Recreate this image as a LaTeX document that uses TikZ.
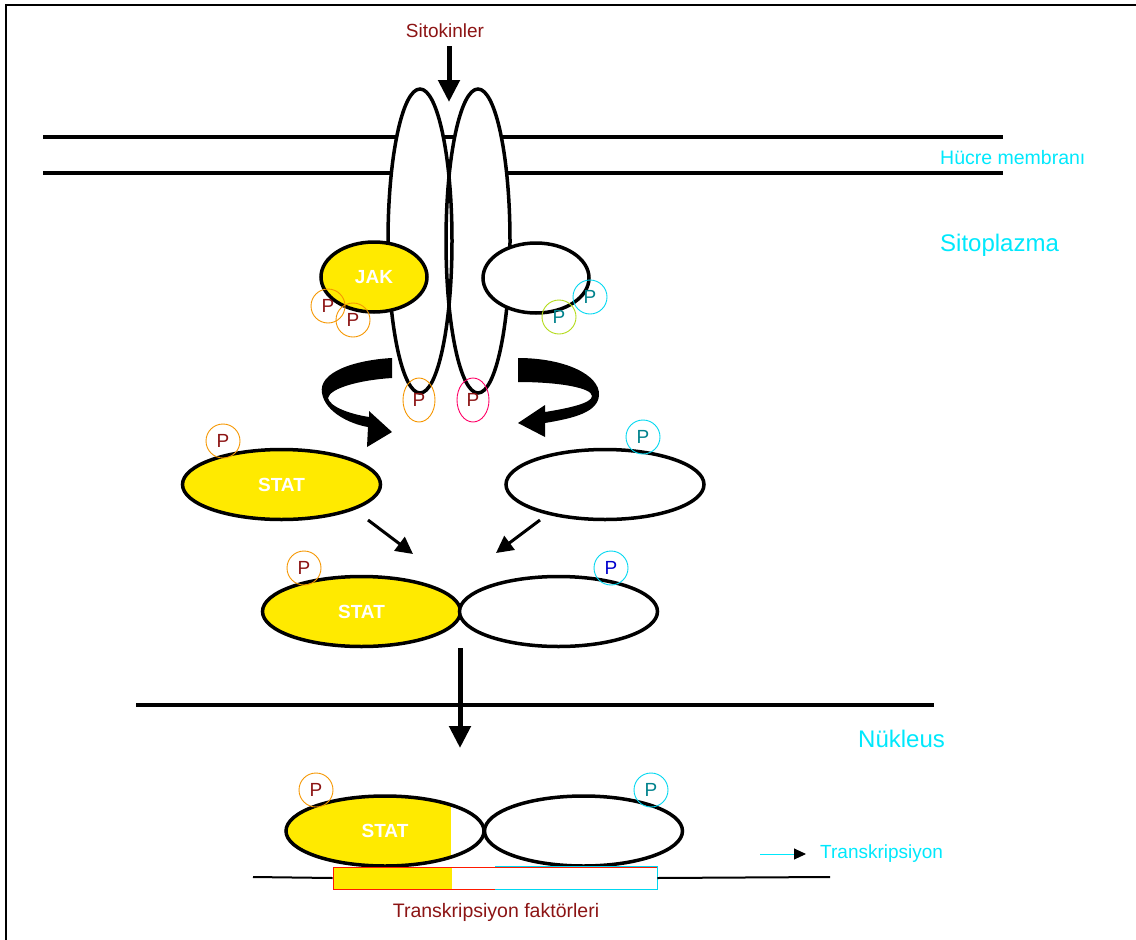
\documentclass[tikz,border=0pt]{standalone}
\usepackage{fontspec}
\setmainfont{Liberation Sans}
\usetikzlibrary{shapes.geometric,arrows.meta}

\definecolor{statyellow}{RGB}{255,234,0}
\definecolor{labelcyan}{RGB}{0,232,252}
\definecolor{labelred}{RGB}{140,20,20}
\definecolor{porange}{RGB}{245,150,0}
\definecolor{pcyan}{RGB}{0,215,240}
\definecolor{pteal}{RGB}{0,130,140}

\begin{document}
\begin{tikzpicture}[x=1pt,y=-1pt,
  receptor/.style={ellipse,fill=white,minimum width=64pt,minimum height=304pt,inner sep=0pt},
  blob/.style={ellipse,draw,line width=3.5pt,inner sep=0pt,text=white,font=\bfseries\fontsize{19}{19}\selectfont},
  jakbox/.style={blob,minimum width=106pt,minimum height=70pt},
  statbox/.style={blob,minimum width=198pt,minimum height=70pt},
  pleft/.style={circle,draw=porange,line width=0.9pt,minimum size=34pt,inner sep=0pt,text=labelred,font=\fontsize{19}{19}\selectfont},
  pright/.style={pleft,draw=pcyan,text=pteal},
  ptail/.style={pleft,ellipse,minimum width=32pt,minimum height=44pt},
  fat/.style={line width=5pt,-{Triangle[width=21pt,length=22pt]}},
  thinarrow/.style={line width=3pt,-{Triangle[width=17pt,length=17pt]}},
  lbl/.style={inner sep=0pt,font=\fontsize{#1}{#1}\selectfont}]
  \useasboundingbox (0,0) rectangle (1136,940);
  % frame and membranes
  \draw[line width=2.5pt] (6,940) -- (6,5) -- (1136,5);
  \draw[line width=4pt] (43,137) -- (1003,137) (43,173) -- (1003,173);
  % receptor
  \node[receptor] (recL) at (420,241) {};
  \node[receptor] (recR) at (478,241) {};
  \draw[line width=3.5pt] (recL.center) ellipse [x radius=32, y radius=152]
                          (recR.center) ellipse [x radius=32, y radius=152];
  \node[jakbox,fill=statyellow] (jak) at (374,277) {JAK};
  \node[jakbox,fill=white] (jakR) at (536,278) {};
  \node[pleft] (pj1) at (328,306) {P};
  \node[pleft] (pj2) at (353,320) {P};
  \node[pright] (pj3) at (590,297) {P};
  \node[pright,draw=yellow!70!green] (pj4) at (559,317) {P};
  \node[ptail] (pt1) at (419,400) {P};
  \node[ptail,draw=red!60!magenta] (pt2) at (473,400) {P};
  % curved arrows
  \fill (392,358) .. controls (355,360) and (318,372) .. (322,393)
        .. controls (325,412) and (350,424) .. (368,427) -- (367,447) -- (392,432)
        -- (369,411) -- (369,417) .. controls (350,414) and (330,407) .. (328,398)
        .. controls (330,388) and (360,380) .. (392,378) -- cycle;
  \fill (518,358) .. controls (565,358) and (600,375) .. (599,395)
        .. controls (598,412) and (575,418) .. (545,423) -- (545,437) -- (518,423)
        -- (545,405) -- (545,412) .. controls (570,408) and (592,403) .. (592,396)
        .. controls (592,388) and (560,382) .. (518,382) -- cycle;
  % free STAT
  \node[statbox,fill=statyellow] (statL) at (281.5,484.5) {STAT};
  \node[statbox,fill=white] (statR) at (605,484.5) {};
  \node[pleft] (ps1) at (223,441) {P};
  \node[pright] (ps2) at (643,437) {P};
  \coordinate (inL) at (368,520);
  \coordinate (inLend) at (413,554);
  \coordinate (inR) at (540,520);
  \coordinate (inRend) at (496,553);
  \draw[thinarrow] (inL) -- (inLend);
  \draw[thinarrow] (inR) -- (inRend);
  % dimer
  \node[statbox,fill=statyellow] (dimL) at (361.5,611.5) {STAT};
  \node[statbox,fill=white] (dimR) at (558.5,611.5) {};
  \node[pleft] (pd1) at (304,568) {P};
  \node[pright,text=blue!80!black] (pd2) at (611,568) {P};
  % nucleus
  \draw[line width=4pt] (136,705) -- (934,705);
  \coordinate (nucout) at (460,648);
  \coordinate (nucin) at (460,748);
  \draw[fat] (nucout) -- (nucin);
  % DNA bound dimer
  \node[statbox,fill=white,path picture={\fill[statyellow] (path picture bounding box.north west)
        rectangle ([xshift=165pt]path picture bounding box.south west);}] (dnaL) at (385,831) {STAT};
  \node[statbox,fill=white] (dnaR) at (583.5,831) {};
  \node[pleft] (pb1) at (316,790) {P};
  \node[pright] (pb2) at (651,790) {P};
  \node[draw=red!80!orange,line width=0.9pt,minimum width=324pt,minimum height=22pt,inner sep=0pt,
        path picture={\fill[statyellow] (path picture bounding box.north west)
        rectangle ([xshift=119pt]path picture bounding box.south west);}] (tfbox) at (495,878) {};
  \draw[pcyan,line width=1.2pt] (tfbox.north) -- (tfbox.north east) -- (tfbox.south east) -- (tfbox.south);
  \coordinate (dnaA) at (253,877);
  \coordinate (dnaB) at (830,877);
  \draw[line width=2pt] (dnaA) -- (tfbox.west) (tfbox.east) -- (dnaB);
  % labels
  \node[lbl=19,text=labelred] (cyt) at (445,31) {Sitokinler};
  \coordinate (cyttip) at (449,102);
  \draw[fat] (449,46) -- (cyttip);
  \node[lbl=19.5,text=labelcyan,anchor=west] (memb) at (940,158) {Hücre membranı};
  \node[lbl=24,text=labelcyan,anchor=west] (cyto) at (940,245) {Sitoplazma};
  \node[lbl=24,text=labelcyan,anchor=west] (nuc) at (858,739) {Nükleus};
  \node[lbl=19,text=labelcyan,anchor=west] (trans) at (820,854) {Transkripsiyon};
  \coordinate (transA) at (760,854);
  \draw[labelcyan,line width=1pt,-{Triangle[black,width=11pt,length=12pt]}] (transA) -- ([xshift=-14pt]trans.west);
  \node[lbl=19.5,text=labelred] (tf) at (496,912) {Transkripsiyon faktörleri};
\end{tikzpicture}
\end{document}
